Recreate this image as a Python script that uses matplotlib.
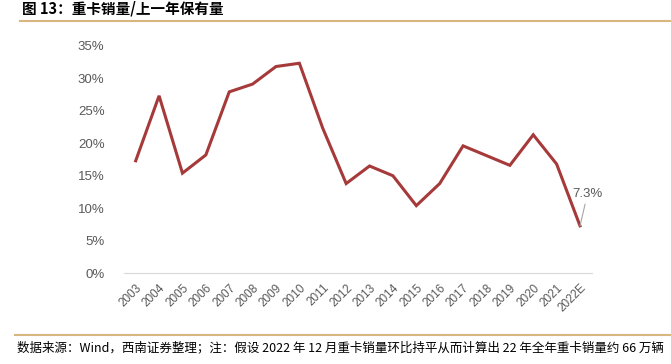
import matplotlib
matplotlib.use("Agg")
import matplotlib.pyplot as plt
from matplotlib.lines import Line2D

plt.rcParams['font.family'] = ['Liberation Sans', 'Noto Sans CJK SC', 'DejaVu Sans']

years = ["2003", "2004", "2005", "2006", "2007", "2008", "2009", "2010", "2011", "2012",
         "2013", "2014", "2015", "2016", "2017", "2018", "2019", "2020", "2021", "2022E"]
ratio = [17.3, 27.3, 15.4, 18.2, 27.9, 29.1, 31.8, 32.3, 22.3, 13.8,
         16.5, 15.0, 10.4, 13.8, 19.6, 18.1, 16.6, 21.3, 16.8, 7.3]
yticks = [0, 5, 10, 15, 20, 25, 30, 35]
title = "图 13：重卡销量/上一年保有量"
footer = "数据来源：Wind，西南证券整理；注：假设 2022 年 12 月重卡销量环比持平从而计算出 22 年全年重卡销量约 66 万辆"

fig = plt.figure(figsize=(6.71, 3.64), dpi=100)
ax = fig.add_axes([124/671, 1-273.3/364, (591.7-124)/671, (273.3-45.7)/364])

x = list(range(len(years)))
ax.plot(x, ratio, color="#A63A3A", lw=2.2, solid_joinstyle="miter")
ax.set_xlim(-0.5, len(years)-0.5)
ax.set_ylim(0, 35)
ax.set_yticks(yticks)
ax.set_yticklabels([f"{v}%" for v in yticks], color="#595959", fontsize=9.5)
ax.set_xticks(x)
ax.set_xticklabels(years, rotation=45, ha="right", rotation_mode="anchor",
                   color="#595959", fontsize=8.5)
for s in ["top", "right", "left"]:
    ax.spines[s].set_visible(False)
ax.spines["bottom"].set_color("#D9D9D9")
ax.tick_params(length=0, pad=6)
ax.tick_params(axis="y", pad=14)

# annotation for last point
ax.annotate(f"{ratio[-1]}%", xy=(x[-1], ratio[-1]), xytext=(x[-1]+0.32, ratio[-1]+4.9),
            fontsize=9.5, color="#595959", ha="center", va="center",
            arrowprops=dict(arrowstyle="-", color="#A6A6A6", lw=0.8, shrinkA=1, shrinkB=0))

fig.text(22/671, 1-8/364, title, fontsize=10.5, fontweight="bold", ha="left", va="center",
         family=['Noto Sans CJK SC', 'DejaVu Sans'], color="#000000")
fig.add_artist(Line2D([20/671, 1.0], [1-21/364, 1-21/364], color="#D8B67F", lw=1.5,
                      transform=fig.transFigure))
fig.add_artist(Line2D([15/671, 1.0], [1-335/364, 1-335/364], color="#D8B67F", lw=1.5,
                      transform=fig.transFigure))
fig.text(17/671, 1-348/364, footer, fontsize=9, ha="left", va="center", style="italic",
         family=['Noto Sans CJK SC', 'DejaVu Sans'], color="#000000")

fig.savefig("out.png", dpi=100)
